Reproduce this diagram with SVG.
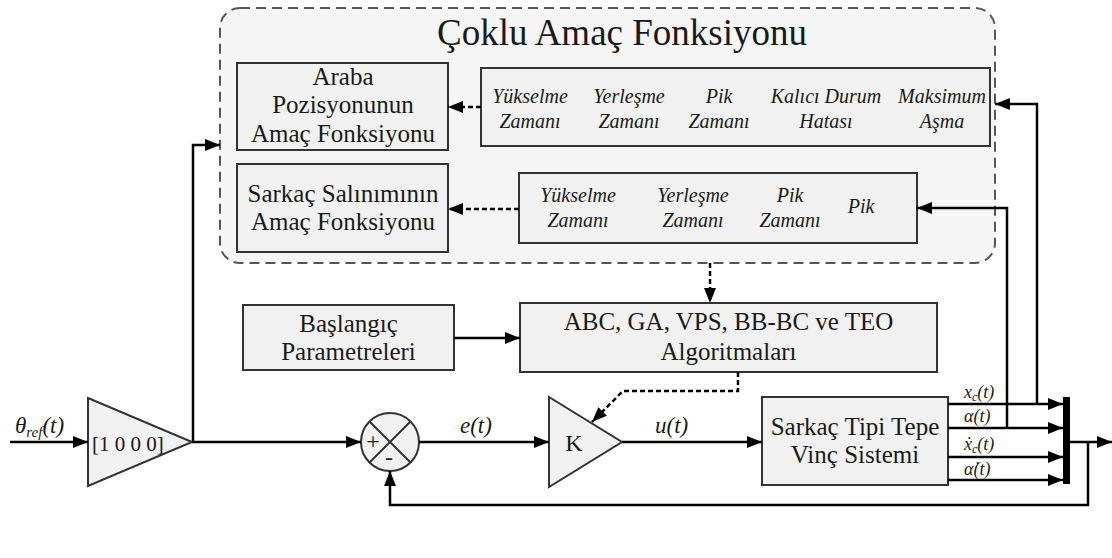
<svg xmlns="http://www.w3.org/2000/svg" width="1112" height="558" viewBox="0 0 1112 558">
<style>
text{font-family:"Liberation Serif","Times New Roman",serif;fill:#1a1a1a}
.bt{font-size:25px;text-anchor:middle}
.it{font-style:italic;font-size:20px;text-anchor:middle}
.lb{font-style:italic;font-size:23px}
.ol{font-style:italic;font-size:18px}
.box{fill:#f1f1f1;stroke:#333;stroke-width:2}
.wire{fill:none;stroke:#000;stroke-width:2.5}
.dash{fill:none;stroke:#000;stroke-width:2.5;stroke-dasharray:5 3}
</style>
<defs>
<marker id="ah" markerUnits="userSpaceOnUse" markerWidth="16" markerHeight="12" refX="15" refY="6" orient="auto">
<path d="M0,0 L15,6 L0,12 z" fill="#000"/>
</marker>
</defs>
<g id="objective">
<rect x="220" y="8" width="775" height="255" rx="20" fill="#f5f5f5" stroke="#555" stroke-width="2" stroke-dasharray="10 6"/>
<text x="622" y="45" font-size="37" text-anchor="middle">Çoklu Amaç Fonksiyonu</text>
</g>
<g id="cart-objective">
<rect class="box" x="237" y="63" width="211" height="87"/>
<text class="bt" x="343" y="85">Araba</text>
<text class="bt" x="343" y="113">Pozisyonunun</text>
<text class="bt" x="343" y="142">Amaç Fonksiyonu</text>
</g>
<g id="pendulum-objective">
<rect class="box" x="237" y="164" width="211" height="88"/>
<text class="bt" x="343" y="202">Sarkaç Salınımının</text>
<text class="bt" x="343" y="230">Amaç Fonksiyonu</text>
</g>
<g id="cart-criteria">
<rect class="box" x="481" y="68" width="509" height="78"/>
<text class="it" x="530" y="103">Yükselme</text>
<text class="it" x="530" y="128">Zamanı</text>
<text class="it" x="629" y="103">Yerleşme</text>
<text class="it" x="629" y="128">Zamanı</text>
<text class="it" x="719" y="103">Pik</text>
<text class="it" x="719" y="128">Zamanı</text>
<text class="it" x="826" y="103">Kalıcı Durum</text>
<text class="it" x="826" y="128">Hatası</text>
<text class="it" x="942" y="103">Maksimum</text>
<text class="it" x="942" y="128">Aşma</text>
</g>
<g id="pendulum-criteria">
<rect class="box" x="519" y="173" width="398" height="70"/>
<text class="it" x="578" y="202">Yükselme</text>
<text class="it" x="578" y="227">Zamanı</text>
<text class="it" x="693" y="202">Yerleşme</text>
<text class="it" x="693" y="227">Zamanı</text>
<text class="it" x="790" y="202">Pik</text>
<text class="it" x="790" y="227">Zamanı</text>
<text class="it" x="861" y="213">Pik</text>
</g>
<g id="initial-params">
<rect class="box" x="243" y="305" width="211" height="65"/>
<text class="bt" x="348.5" y="332">Başlangıç</text>
<text class="bt" x="348.5" y="360">Parametreleri</text>
</g>
<g id="algorithms">
<rect class="box" x="520" y="303" width="417" height="69"/>
<text class="bt" x="728.5" y="330">ABC, GA, VPS, BB-BC ve TEO</text>
<text class="bt" x="728.5" y="360">Algoritmaları</text>
</g>
<g id="input-gain">
<polygon points="88,398 192,442 88,486" fill="#f1f1f1" stroke="#333" stroke-width="2"/>
<text x="92" y="451" font-size="21">[1 0 0 0]</text>
</g>
<g id="sum">
<circle cx="390" cy="442" r="29" fill="#f1f1f1" stroke="#333" stroke-width="2"/>
<path d="M369.5,421.5 L410.5,462.5 M410.5,421.5 L369.5,462.5" stroke="#333" stroke-width="2"/>
<text x="373" y="449" font-size="24" text-anchor="middle">+</text>
<text x="389" y="465" font-size="24" text-anchor="middle">-</text>
</g>
<g id="gain-k">
<polygon points="549,397 622,442 549,487" fill="#f1f1f1" stroke="#333" stroke-width="2"/>
<text x="574" y="451" font-size="24" text-anchor="middle">K</text>
</g>
<g id="plant">
<rect class="box" x="762" y="397" width="186" height="88"/>
<text class="bt" x="855" y="435">Sarkaç Tipi Tepe</text>
<text class="bt" x="855" y="463">Vinç Sistemi</text>
</g>
<g id="mux">
<rect x="1063" y="397" width="7" height="87" fill="#000"/>
</g>
<g id="connectors">
<path class="wire" d="M10,442 L88,442" marker-end="url(#ah)"/>
<path class="wire" d="M192,442 L361,442" marker-end="url(#ah)"/>
<path class="wire" d="M193,442 L193,145 L220,145" marker-end="url(#ah)"/>
<path class="wire" d="M419,442 L549,442" marker-end="url(#ah)"/>
<path class="wire" d="M622,442 L762,442" marker-end="url(#ah)"/>
<path class="wire" d="M454,338 L520,338" marker-end="url(#ah)"/>
<path class="wire" d="M948,404 L1063,404" marker-end="url(#ah)"/>
<path class="wire" d="M948,428 L1063,428" marker-end="url(#ah)"/>
<path class="wire" d="M948,457 L1063,457" marker-end="url(#ah)"/>
<path class="wire" d="M948,480 L1063,480" marker-end="url(#ah)"/>
<path class="wire" d="M1037,404 L1037,104 L995,104" marker-end="url(#ah)"/>
<path class="wire" d="M1007,428 L1007,208 L917,208" marker-end="url(#ah)"/>
<path class="wire" d="M1070,442 L1112,442" marker-end="url(#ah)"/>
<path class="wire" d="M1088,442 L1088,505 L390,505 L390,471" marker-end="url(#ah)"/>
<path class="dash" d="M481,107 L448,107" marker-end="url(#ah)"/>
<path class="dash" d="M519,209 L448,209" marker-end="url(#ah)"/>
<path class="dash" d="M710,263 L710,303" marker-end="url(#ah)"/>
<path class="dash" d="M738,372 L738,391 L623,391 L592,422" marker-end="url(#ah)"/>
<text class="lb" x="15" y="433">θ<tspan font-size="15" dy="4">ref</tspan><tspan dy="-4">(t)</tspan></text>
<text class="lb" x="460" y="433">e(t)</text>
<text class="lb" x="655" y="433">u(t)</text>
<text class="ol" x="964" y="398">x<tspan font-size="12" dy="3">c</tspan><tspan dy="-3">(t)</tspan></text>
<text class="ol" x="964" y="422">α(t)</text>
<text class="ol" x="964" y="450">ẋ<tspan font-size="12" dy="3">c</tspan><tspan dy="-3">(t)</tspan></text>
<text class="ol" x="964" y="475">α̇(t)</text>
</g>
</svg>
